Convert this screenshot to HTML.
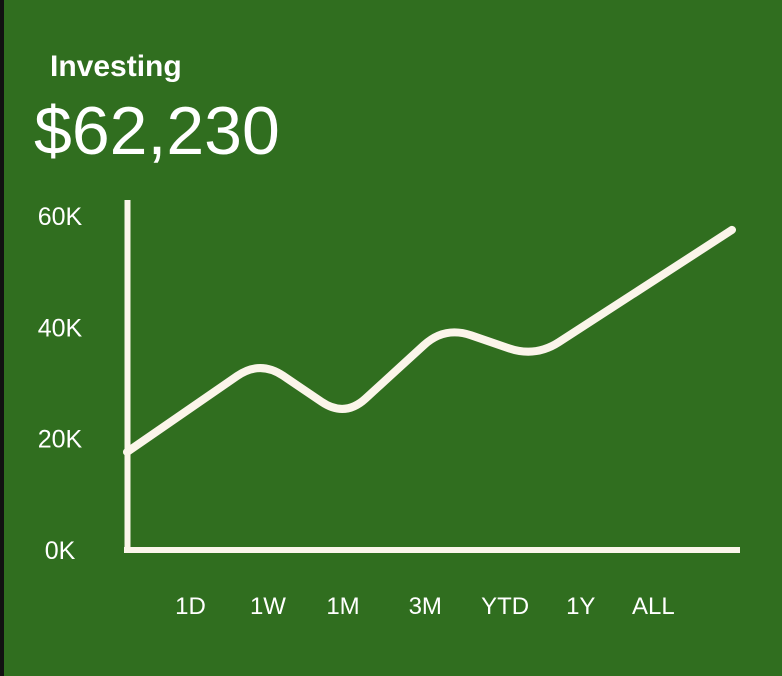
<!DOCTYPE html>
<html><head><meta charset="utf-8"><style>
html,body{margin:0;padding:0;}
body{width:782px;height:676px;background:#306e1f;position:relative;overflow:hidden;font-family:"Liberation Sans",sans-serif;}
#border{position:absolute;left:0;top:0;width:4px;height:676px;background:#111;}
.t{position:absolute;color:#fff;white-space:nowrap;}
</style></head><body>
<div id="border"></div>
<div class="t" style="left:50px;top:50px;font-size:30px;font-weight:bold;">Investing</div>
<div class="t" style="left:34px;top:92px;font-size:68px;">$62,230</div>
<svg id="chart" width="782" height="676" style="position:absolute;left:0;top:0"></svg>
<script>
const yTicks=[0,20,40,60];
const yTickLabels=["0K","20K","40K","60K"];
const categories=["1D","1W","1M","3M","YTD","1Y","ALL"];
const catPos=[10.5,23.3,35.7,49.3,62.5,75,87];
const xVals=[0,22,36,52.5,67.5,100];
const yVals=[17.6,34.1,23.8,40.2,34.6,57.5];
const NS="http://www.w3.org/2000/svg";
const svg=document.getElementById('chart');
const x=v=>127+v/100*605;
const y=v=>550-v/60*334;
function mk(t,a){const e=document.createElementNS(NS,t);for(const k in a)e.setAttribute(k,a[k]);svg.appendChild(e);return e;}
let e=mk('line',{x1:127.5,y1:200,x2:127.5,y2:553,stroke:'#fbf5ea','stroke-width':6});


e=mk('line',{x1:124,y1:550,x2:740,y2:550,stroke:'#fbf5ea','stroke-width':6});


yTicks.forEach((v,i)=>{
  const t=mk('text',{x:60,y:y(v)+9,'text-anchor':'middle',fill:'#fff','font-size':25,'font-family':'Liberation Sans, sans-serif'});
  t.textContent=yTickLabels[i];
  
  
});
categories.forEach((c,i)=>{
  const t=mk('text',{x:x(catPos[i]),y:614,'text-anchor':'middle',fill:'#fff','font-size':24,'font-family':'Liberation Sans, sans-serif'});
  t.textContent=c;
  
  
});
const P=xVals.map((v,i)=>[x(v),y(yVals[i])]);
let d='M'+P[0][0]+','+P[0][1];
const R=28;
for(let i=1;i<P.length-1;i++){
  const a=P[i-1],b=P[i],c=P[i+1];
  const l1=Math.hypot(b[0]-a[0],b[1]-a[1]),l2=Math.hypot(c[0]-b[0],c[1]-b[1]);
  const r1=Math.min(R,l1/2),r2=Math.min(R,l2/2);
  const s=[b[0]-(b[0]-a[0])/l1*r1,b[1]-(b[1]-a[1])/l1*r1];
  const f=[b[0]+(c[0]-b[0])/l2*r2,b[1]+(c[1]-b[1])/l2*r2];
  d+=` L${s[0]},${s[1]} Q${b[0]},${b[1]} ${f[0]},${f[1]}`;
}
d+=` L${P[P.length-1][0]},${P[P.length-1][1]}`;
e=mk('path',{d:d,fill:'none',stroke:'#fbf5ea','stroke-width':8,'stroke-linecap':'round','stroke-linejoin':'round'});


</script>
</body></html>
